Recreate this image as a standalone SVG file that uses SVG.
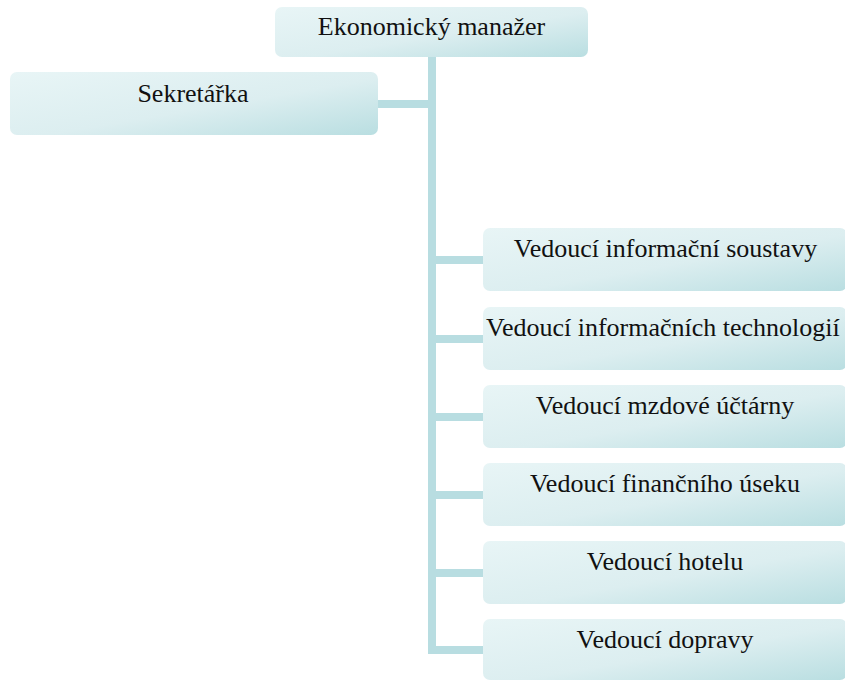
<svg xmlns="http://www.w3.org/2000/svg" width="845" height="680" viewBox="0 0 845 680">
  <style>
    .box { fill: url(#boxFill); }
    .lbl { font-family: 'Liberation Serif', serif; font-size: 26px; fill: #111; text-anchor: middle; }
    .conn { stroke: #b8dde1; stroke-width: 8; fill: none; }
  </style>
  <defs>
    <linearGradient id="boxFill" x1="0" y1="0" x2="1" y2="1">
      <stop offset="0" stop-color="#e8f5f6"/>
      <stop offset="0.55" stop-color="#dceef0"/>
      <stop offset="1" stop-color="#b9dee1"/>
    </linearGradient>
  </defs>

  <!-- connectors -->
  <g id="connectors">
    <path class="conn" d="M432 57 V650 H483"/>
    <path class="conn" d="M378 104 H432"/>
    <path class="conn" d="M432 260 H483"/>
    <path class="conn" d="M432 339 H483"/>
    <path class="conn" d="M432 417 H483"/>
    <path class="conn" d="M432 495 H483"/>
    <path class="conn" d="M432 573 H483"/>
  </g>

  <g id="n-manager">
    <rect class="box" x="275" y="7" width="313" height="50" rx="7"/>
    <text class="lbl" x="431.5" y="35">Ekonomický manažer</text>
  </g>
  <g id="n-sekretarka">
    <rect class="box" x="10" y="72" width="368" height="63" rx="7"/>
    <text class="lbl" x="193" y="102">Sekretářka</text>
  </g>
  <g id="n-info-soustavy">
    <rect class="box" x="483" y="228" width="364" height="63" rx="7"/>
    <text class="lbl" x="665.5" y="257">Vedoucí informační soustavy</text>
  </g>
  <g id="n-info-tech">
    <rect class="box" x="483" y="307" width="364" height="63" rx="7"/>
    <text class="lbl" x="486" y="336" text-anchor="start" style="text-anchor:start">Vedoucí informačních technologií</text>
  </g>
  <g id="n-mzdova">
    <rect class="box" x="483" y="385" width="364" height="63" rx="7"/>
    <text class="lbl" x="665" y="414">Vedoucí mzdové účtárny</text>
  </g>
  <g id="n-financni">
    <rect class="box" x="483" y="463" width="364" height="63" rx="7"/>
    <text class="lbl" x="665" y="492">Vedoucí finančního úseku</text>
  </g>
  <g id="n-hotel">
    <rect class="box" x="483" y="541" width="364" height="63" rx="7"/>
    <text class="lbl" x="665" y="570">Vedoucí hotelu</text>
  </g>
  <g id="n-doprava">
    <rect class="box" x="483" y="619" width="364" height="61" rx="7"/>
    <text class="lbl" x="665" y="648">Vedoucí dopravy</text>
  </g>
</svg>
